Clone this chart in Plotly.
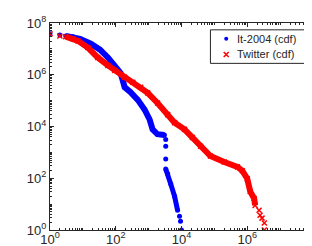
import plotly.graph_objects as go

# Read-off values (log10 of degree, log10 of count)
it_logx = [0, 0.30, 0.48, 0.70, 0.91, 1.24, 1.52, 1.76, 1.97, 2.15, 2.21, 2.27, 2.45, 2.67,
           2.88, 3.03, 3.12, 3.27, 3.48, 3.52, 3.52, 3.52, 3.52, 3.58, 3.67, 3.79, 3.88,
           3.94, 3.97, 4.0]
it_logy = [7.58, 7.54, 7.50, 7.47, 7.39, 7.20, 6.97, 6.67, 6.29, 6.06, 5.79, 5.52, 5.33, 5.03,
           4.65, 4.27, 3.89, 3.70, 3.67, 3.50, 3.24, 2.74, 2.36, 2.17, 1.79, 1.30, 0.76,
           0.53, 0.34, 0.0]
tw_logx = [0, 0.30, 0.48, 0.70, 0.85, 1.15, 1.45, 1.76, 1.97, 2.27, 2.52, 2.76, 2.97, 3.27,
           3.58, 3.79, 4.09, 4.33, 4.58, 4.88, 5.30, 5.70, 5.85, 6.0, 6.09, 6.21, 6.24,
           6.36, 6.39, 6.45, 6.52, 6.52]
tw_logy = [7.58, 7.50, 7.47, 7.39, 7.31, 7.05, 6.67, 6.36, 6.17, 5.90, 5.71, 5.52, 5.30, 4.91,
           4.46, 4.15, 3.89, 3.58, 3.24, 2.86, 2.63, 2.44, 2.29, 1.98, 1.49, 1.22, 0.95,
           0.76, 0.57, 0.46, 0.27, 0.0]
# index ranges of read points that form dense (continuous-looking) bands
it_bands = [(2, 19), (22, 27)]
tw_bands = [(2, 27)]

series_names = ["It-2004 (cdf)", "Twitter (cdf)"]
tick_vals = [1, 1e2, 1e4, 1e6, 1e8]
tick_text = ["10<sup>0</sup>", "10<sup>2</sup>", "10<sup>4</sup>", "10<sup>6</sup>", "10<sup>8</sup>"]

it_x = [10 ** v for v in it_logx]
it_y = [10 ** v for v in it_logy]
tw_x = [10 ** v for v in tw_logx]
tw_y = [10 ** v for v in tw_logy]

BLUE = "#0000ff"
RED = "#ff0000"
AX = "#262626"
FONT = "Liberation Sans, Arial"

fig = go.Figure()
for a, b in it_bands:
    fig.add_trace(go.Scatter(x=it_x[a:b], y=it_y[a:b], mode="lines",
                             line=dict(color=BLUE, width=6 if a < 10 else 5),
                             showlegend=False, hoverinfo="skip"))
fig.add_trace(go.Scatter(x=it_x, y=it_y, mode="markers", name=series_names[0],
                         marker=dict(color=BLUE, symbol="circle", size=5), showlegend=False))
for a, b in tw_bands:
    fig.add_trace(go.Scatter(x=tw_x[a:b], y=tw_y[a:b], mode="lines",
                             line=dict(color=RED, width=6), showlegend=False, hoverinfo="skip"))
fig.add_trace(go.Scatter(x=tw_x, y=tw_y, mode="markers", name=series_names[1],
                         marker=dict(color=RED, symbol="x-thin-open", size=5,
                                     line=dict(color=RED, width=1.5)), showlegend=False))

# manual legend (markers on an overlay axis in 0..1 plot-fraction units)
leg_left, leg_right, leg_top, leg_bot = 0.610, 0.970, 0.967, 0.805
row_y = [0.924, 0.848]
mark_x = 0.670
text_x = 0.702
fig.add_shape(type="rect", xref="paper", yref="paper", x0=leg_left, x1=leg_right,
              y0=leg_bot, y1=leg_top, line=dict(color=AX, width=1), fillcolor="white", layer="below")
fig.add_trace(go.Scatter(x=[mark_x], y=[row_y[0]], xaxis="x2", yaxis="y2", mode="markers",
                         marker=dict(color=BLUE, symbol="circle", size=4), showlegend=False,
                         hoverinfo="skip"))
fig.add_trace(go.Scatter(x=[mark_x], y=[row_y[1]], xaxis="x2", yaxis="y2", mode="markers",
                         marker=dict(color=RED, symbol="x-thin-open", size=5,
                                     line=dict(color=RED, width=1.5)), showlegend=False,
                         hoverinfo="skip"))
for name, ry in zip(series_names, row_y):
    fig.add_annotation(x=text_x, y=ry, xref="paper", yref="paper", text=name, showarrow=False,
                       xanchor="left", yanchor="middle",
                       font=dict(family=FONT, size=11, color=AX))

axis_common = dict(type="log", showgrid=False, zeroline=False, showline=True,
                   linecolor=AX, linewidth=1, mirror="ticks", ticks="inside",
                   ticklen=4, tickcolor=AX,
                   tickfont=dict(family=FONT, size=13, color=AX),
                   tickvals=tick_vals, ticktext=tick_text,
                   minor=dict(ticks="inside", ticklen=2, tickcolor=AX, dtick="D1",
                              showgrid=False))

fig.update_xaxes(range=[0, 8], ticklabelstandoff=-3, **axis_common)
fig.update_yaxes(range=[0, 8], **axis_common)

fig.update_layout(
    width=312, height=246,
    margin=dict(l=42, r=6, t=12, b=24),
    paper_bgcolor="white", plot_bgcolor="white",
    showlegend=False,
    xaxis2=dict(overlaying="x", range=[0, 1], visible=False, domain=[0, 1]),
    yaxis2=dict(overlaying="y", range=[0, 1], visible=False, domain=[0, 1]),
)

fig.write_html("out.html")
